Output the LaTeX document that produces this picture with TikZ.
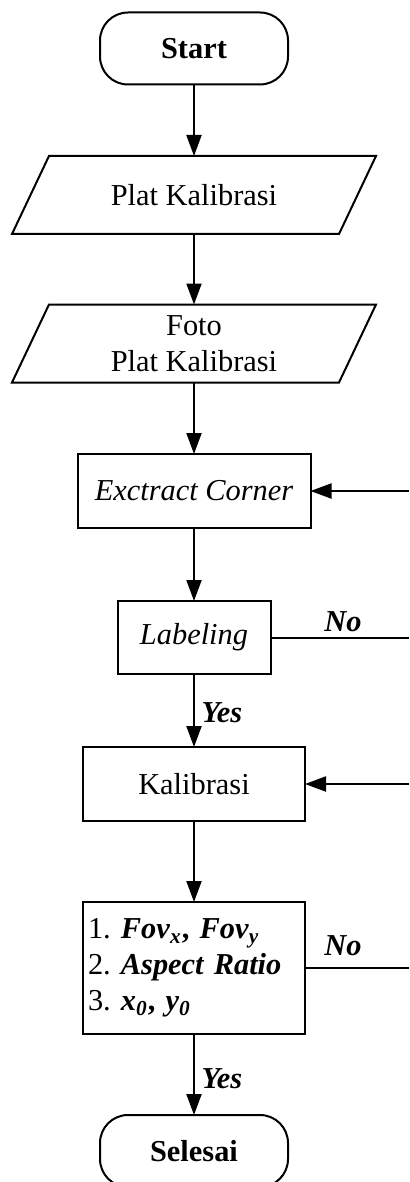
\documentclass[tikz,border=0pt]{standalone}
\usepackage{fontspec}
\setmainfont{Liberation Serif}
\usetikzlibrary{arrows.meta}

\frenchspacing
\begin{document}
\begin{tikzpicture}[x=0.5pt,y=-0.5pt,
  font=\fontsize{15.2}{18}\selectfont,
  every node/.style={inner sep=0pt, outer sep=0pt},
  flow/.style={line width=1pt},
  arr/.style={flow, -{Triangle[length=10.5pt,width=7.5pt]}},
  outline/.style={draw, line width=1pt, line join=miter},
  term/.style={outline, rectangle, rounded corners=14pt,
    minimum width=94pt, minimum height=36pt},
  % input/output: the box holds the text, its outline is a parallelogram
  io/.style={rectangle, align=center, minimum width=182pt, minimum height=39pt},
  proc/.style={outline, rectangle, minimum height=37pt},
  lbl/.style={font=\fontsize{15.2}{18}\selectfont\bfseries\itshape}
]
\useasboundingbox (0,0) rectangle (409,1182);

% main column
\node[term] (start) at (194,48.5) {\textbf{Start}};
\node[io] (plat) at (194,195) {Plat Kalibrasi};
\node[io] (foto) at (194,343.5) {Foto\\Plat Kalibrasi};
\node[proc, minimum width=116.5pt] (extract) at (194,491) {\textit{Exctract Corner}};
\node[proc, minimum width=76.5pt, minimum height=36.5pt] (label) at (194,637.5) {\textit{Labeling}};
\node[proc, minimum width=111pt] (kalib) at (194,784) {Kalibrasi};
\node[outline, rectangle, text width=106pt, inner xsep=2.5pt,
  align=left, minimum height=66pt] (param) at (194,968)
  {1. \textbf{\textit{Fov}\textsubscript{\textit{x}}, \textit{Fov}\textsubscript{\textit{y}}}\\
   2. \textbf{\textit{Aspect Ratio}}\\
   3. \textbf{\textit{x}\textsubscript{\textit{0}}, \textit{y}\textsubscript{\textit{0}}}};
\node[term] (finish) at (194,1151) {\textbf{Selesai}};

% parallelogram outlines of the two input boxes
\foreach \n in {plat,foto}
  \draw[outline] ([xshift=18.5pt]\n.north west) -- (\n.north east)
    -- ([xshift=-18.5pt]\n.south east) -- (\n.south west) -- cycle;

% loop ends at the right margin
\coordinate (r1) at (409,491);
\coordinate (r2) at (409,637.5);
\coordinate (r3) at (409,784);
\coordinate (r4) at (409,968);

% connectors
\draw[arr] (start) -- (plat);
\draw[arr] (plat) -- (foto);
\draw[arr] (foto) -- (extract);
\draw[arr] (r1) -- (extract);
\draw[arr] (extract) -- (label);
\draw[flow] (label) -- (r2);
\draw[arr] (label) -- (kalib);
\draw[arr] (r3) -- (kalib);
\draw[arr] (kalib) -- (param);
\draw[flow] (param) -- (r4);
\draw[arr] (param) -- (finish);

% branch labels
\node[lbl] (no1) at (343,622) {No};
\node[lbl] (yes1) at (222,713) {Yes};
\node[lbl] (no2) at (343,946) {No};
\node[lbl] (yes2) at (222,1079) {Yes};
\end{tikzpicture}
\end{document}
